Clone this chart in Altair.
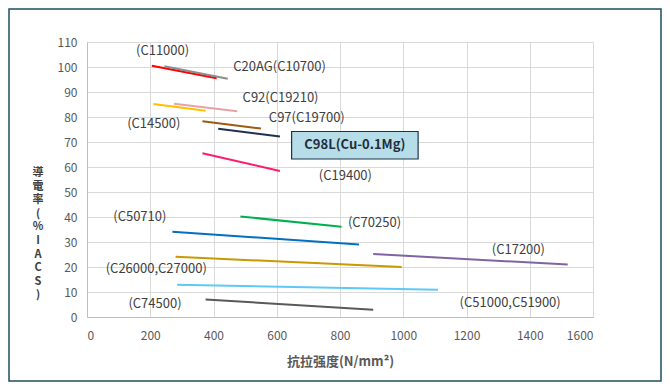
import altair as alt
import pandas as pd

# ---- data ----
series = ["C11000", "C10700", "C14500", "C19210", "C19700", "C98L",
          "C19400", "C70250", "C50710", "C26000", "C17200", "C51000", "C74500"]
x_start = [205, 245, 210, 275, 365, 415, 365, 485, 270, 280, 905, 285, 375]
x_end   = [410, 445, 375, 475, 550, 610, 610, 805, 860, 995, 1520, 1110, 905]
y_start = [100.5, 100.3, 85.2, 85.3, 78.3, 75.3, 65.5, 40.2, 34.1, 24.1, 25.2, 12.9, 7.0]
y_end   = [95.5, 95.3, 82.5, 82.3, 75.4, 72.2, 58.4, 36.1, 29.0, 20.0, 21.0, 10.9, 2.9]
colors  = ["#ff0000", "#8c8c8c", "#ffc000", "#e6a3a3", "#9c5a12", "#1f3050",
           "#ff1a6e", "#00b050", "#0070c0", "#c99a00", "#8064a2", "#5ec8f8", "#595959"]

label_text = ["(C11000)", "C20AG(C10700)", "C92(C19210)", "(C14500)", "C97(C19700)",
              "(C19400)", "(C50710)", "(C70250)", "(C26000,C27000)", "(C74500)",
              "(C17200)", "(C51000,C51900)"]
label_x = [239, 609, 612, 211, 695, 817, 167, 909, 219, 215, 1364, 1338]
label_y = [106.6, 99.9, 87.7, 77.3, 79.6, 56.5, 40.0, 37.7, 19.2, 5.2, 26.9, 5.6]

box_label = ["C98L(Cu-0.1Mg)"]
box_x1 = [647]
box_x2 = [1047]
box_y1 = [74.2]
box_y2 = [63.2]

x_ticks = [0, 200, 400, 600, 800, 1000, 1200, 1400, 1600]
y_ticks = [0, 10, 20, 30, 40, 50, 60, 70, 80, 90, 100, 110]
x_title = "抗拉强度(N/mm²)"
y_title_chars = ["導", "電", "率", "(", "%", "I", "A", "C", "S", ")"]

# ---- tables ----
rows = []
for i, s in enumerate(series):
    rows.append({"series": s, "x": x_start[i], "y": y_start[i], "o": 0})
    rows.append({"series": s, "x": x_end[i], "y": y_end[i], "o": 1})
lines_df = pd.DataFrame(rows)
labels_df = pd.DataFrame({"t": label_text, "x": label_x, "y": label_y})
box_df = pd.DataFrame({"t": box_label, "x1": box_x1, "x2": box_x2, "y1": box_y1, "y2": box_y2})

FONT = "Noto Sans CJK JP"
W, H = 506, 275

xscale = alt.Scale(domain=[0, 1600], nice=False)
yscale = alt.Scale(domain=[0, 110], nice=False)

xaxis = alt.Axis(values=x_ticks, format="d", title=x_title, grid=True, ticks=False,
                 labelPadding=13, labelOverlap=False, titleX=253, titleY=44,
                 titleBaseline="middle", titleAlign="center", titleFontWeight="bold",
                 titleFontSize=13, titleColor="#595959", titleFont=FONT)
yaxis = alt.Axis(values=y_ticks, format="d", title=None, grid=True, ticks=False,
                 labelPadding=10, labelOverlap=False)


def X(field):
    return alt.X(field, scale=xscale, axis=xaxis)


def Y(field):
    return alt.Y(field, scale=yscale, axis=yaxis)


frame = alt.Chart(pd.DataFrame({"a": [0]})).mark_rect(
    fill=None, stroke="#1f4e5f", strokeWidth=1.5
).encode(
    x=alt.value(-78), x2=alt.value(W + 68),
    y=alt.value(-33), y2=alt.value(H + 64)
)

ytitle = alt.Chart(pd.DataFrame({"t": ["\n".join(y_title_chars)]})).mark_text(
    font=FONT, fontSize=11, fontWeight="bold", color="#404040",
    align="center", baseline="middle", lineBreak="\n", lineHeight=13.6
).encode(
    x=alt.value(-49), y=alt.value(131), text="t:N"
)

lines = alt.Chart(lines_df).mark_line(strokeWidth=2).encode(
    x=X("x:Q"),
    y=Y("y:Q"),
    color=alt.Color("series:N", scale=alt.Scale(domain=series, range=colors), legend=None),
    detail="series:N",
    order="o:Q",
)

labels = alt.Chart(labels_df).mark_text(
    font=FONT, fontSize=13, color="#404040", align="center", baseline="middle"
).encode(
    x=X("x:Q"),
    y=Y("y:Q"),
    text="t:N",
)

box = alt.Chart(box_df).mark_rect(fill="#b7dee8", stroke="#1f3346", strokeWidth=1.2).encode(
    x=X("x1:Q"), x2="x2:Q",
    y=Y("y1:Q"), y2="y2:Q",
)
box_text = alt.Chart(box_df).transform_calculate(
    xm="(datum.x1 + datum.x2) / 2", ym="(datum.y1 + datum.y2) / 2"
).mark_text(
    font=FONT, fontSize=13, fontWeight="bold", color="#1f2d3d",
    align="center", baseline="middle"
).encode(
    x=X("xm:Q"),
    y=Y("ym:Q"),
    text="t:N",
)

chart = alt.layer(lines, labels, box, box_text, frame, ytitle).properties(
    width=W, height=H,
    autosize=alt.AutoSizeParams(type="none"),
    padding={"left": 79, "top": 34, "right": 69, "bottom": 65},
    background="white",
).configure_view(stroke=None).configure_axis(
    gridColor="#d9d9d9", gridWidth=1, domainColor="#bfbfbf", domainWidth=1,
    labelFont=FONT, labelFontSize=12, labelColor="#595959",
)

chart.save("out.html", embed_options={"renderer": "svg", "actions": False})
